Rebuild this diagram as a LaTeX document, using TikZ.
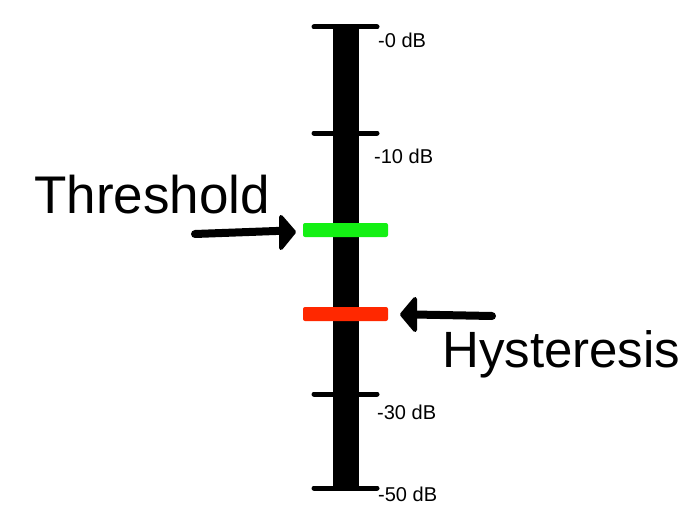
\documentclass[tikz,border=0pt]{standalone}
\usepackage{fontspec}
\setmainfont{Liberation Sans}
\definecolor{barGreen}{RGB}{20,240,20}
\definecolor{barRed}{RGB}{255,40,0}
\tikzset{
  tick/.style={line width=5pt, line cap=round},
  level/.style={rectangle, rounded corners=2pt, minimum width=85pt, minimum height=14pt, inner sep=0pt},
  dblabel/.style={anchor=base west, inner sep=0pt, font=\fontsize{20}{23}\selectfont},
  biglabel/.style={anchor=base west, inner sep=0pt},
  shaft/.style={line width=8pt, line cap=round},
  arrowhead/.style={fill=black, draw=black, line width=4pt, line join=round},
}
\begin{document}
\begin{tikzpicture}[x=1pt,y=-1pt]
\useasboundingbox (0,0) rectangle (698,532);
% main bar
\draw[line width=26pt] (346,27) -- (346,489);
% ticks
\draw[tick] (314,27) -- (377,27);
\draw[tick] (314,133) -- (377,133);
\draw[tick] (314,394) -- (377,394);
\draw[tick] (314,488) -- (377,488);
% labels
\node[dblabel] (l0) at (378,48) {-0 dB};
\node[dblabel] (l10) at (374,163) {-10 dB};
\node[dblabel] (l30) at (377,419) {-30 dB};
\node[dblabel] (l50) at (378,501) {-50 dB};
% level bars
\node[level, fill=barGreen] (thr) at (345.5,230) {};
\node[level, fill=barRed] (hys) at (345.5,314) {};
% texts
\node[biglabel, font=\fontsize{53}{60}\selectfont] (thrtext) at (34,213) {Threshold};
\node[biglabel, font=\fontsize{51}{58}\selectfont] (hystext) at (442,367) {Hysteresis};
% arrows
\coordinate (thrtail) at (195,234);
\coordinate (hystail) at (492,316);
\draw[shaft, shorten >=20pt] (thrtail) -- (thr.west);
\draw[arrowhead] (294,232) -- (281,217) -- (281,248) -- cycle;
\draw[shaft, shorten >=26pt] (hystail) -- (hys.east);
\draw[arrowhead] (402,314.5) -- (415,299) -- (415,330) -- cycle;
\end{tikzpicture}
\end{document}
